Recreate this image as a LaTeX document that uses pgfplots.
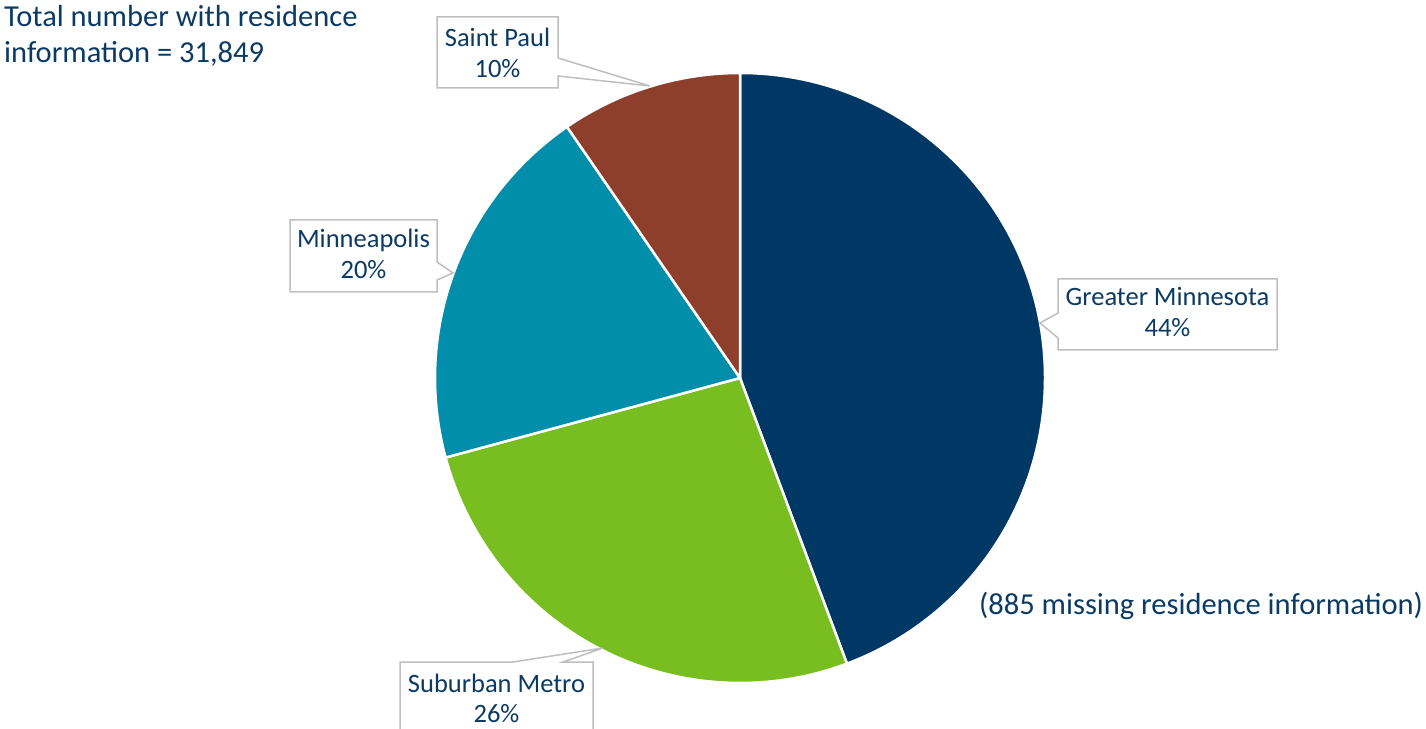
\documentclass[border=0pt]{standalone}
\usepackage{pgfplots}
\usepackage{pgfplotstable}
\pgfplotsset{compat=1.18}
\usepackage{fontspec}
\setmainfont{Carlito}

\definecolor{gmn}{HTML}{003865}
\definecolor{sub}{HTML}{78BE21}
\definecolor{mpls}{HTML}{008EAA}
\definecolor{stp}{HTML}{8D3F2B}
\definecolor{txt}{HTML}{0B3A65}
\definecolor{callout}{HTML}{BFBFBF}

% share of residents, clockwise from 12 o'clock
\pgfplotstableread{
region          value  colour
GreaterMN       44.3   gmn
SuburbanMetro   26.5   sub
Minneapolis     19.6   mpls
SaintPaul        9.6   stp
}\piedata

\begin{document}
\begin{tikzpicture}
\useasboundingbox (0,0) rectangle (1426pt,728pt);
\begin{axis}[
    at={(0,0)}, anchor=origin,
    x=1pt, y=1pt,
    xmin=0, xmax=1426, ymin=0, ymax=728,
    scale only axis,
    axis lines=none,
    clip=false,
]
\pgfplotstablegetrowsof{\piedata}
\pgfmathtruncatemacro\lastrow{\pgfplotsretval-1}
\def\angA{90}
\pgfplotsforeachungrouped \i in {0,...,\lastrow}{%
  \pgfplotstablegetelem{\i}{value}\of\piedata \let\v\pgfplotsretval
  \pgfplotstablegetelem{\i}{colour}\of\piedata \let\c\pgfplotsretval
  \pgfmathsetmacro\angB{\angA-3.6*\v}%
  \edef\temp{\noexpand\fill[\c, draw=white, line width=2.5pt, line join=round]
    (axis cs:740,350) -- ++(\angA:305pt)
    arc[start angle=\angA, end angle=\angB, radius=305pt] -- cycle;}%
  \temp
  \global\let\angA\angB
}

% callouts
\begin{scope}[fill=white, draw=callout, line width=1.5pt]
\filldraw (axis cs:437,711) -- (axis cs:558,711) -- (axis cs:558,670) -- (axis cs:650,642)
  -- (axis cs:558,652) -- (axis cs:558,640) -- (axis cs:437,640) -- cycle;
\filldraw (axis cs:290,508) -- (axis cs:437,508) -- (axis cs:437,466) -- (axis cs:453,455)
  -- (axis cs:437,448) -- (axis cs:437,436) -- (axis cs:290,436) -- cycle;
\filldraw (axis cs:1058,449) -- (axis cs:1277,449) -- (axis cs:1277,378) -- (axis cs:1058,378)
  -- (axis cs:1058,390) -- (axis cs:1040,405) -- (axis cs:1058,415) -- cycle;
\filldraw (axis cs:400,66) -- (axis cs:513,66) -- (axis cs:603,80) -- (axis cs:563,66)
  -- (axis cs:593,66) -- (axis cs:593,-10) -- (axis cs:400,-10) -- cycle;
\end{scope}

\begin{scope}[every node/.append style={inner sep=0pt, anchor=base, text=txt, font=\fontsize{26.5}{31}\selectfont}]
\node at (axis cs:497.5,681) {Saint Paul};
\node at (axis cs:497.5,650) {10\%};
\node at (axis cs:363.5,480) {Minneapolis};
\node at (axis cs:363.5,449) {20\%};
\node at (axis cs:1167.5,422) {Greater Minnesota};
\node at (axis cs:1167.5,391) {44\%};
\node at (axis cs:496.5,36) {Suburban Metro};
\node at (axis cs:496.5,6) {26\%};
\end{scope}

\begin{scope}[every node/.append style={inner sep=0pt, anchor=base west, text=txt, font=\fontsize{30.5}{36}\selectfont}]
\node at (axis cs:4,701) {Total number with residence};
\node at (axis cs:4,665) {information = 31,849};
\node at (axis cs:979,113) {(885 missing residence information)};
\end{scope}
\end{axis}
\end{tikzpicture}
\end{document}
